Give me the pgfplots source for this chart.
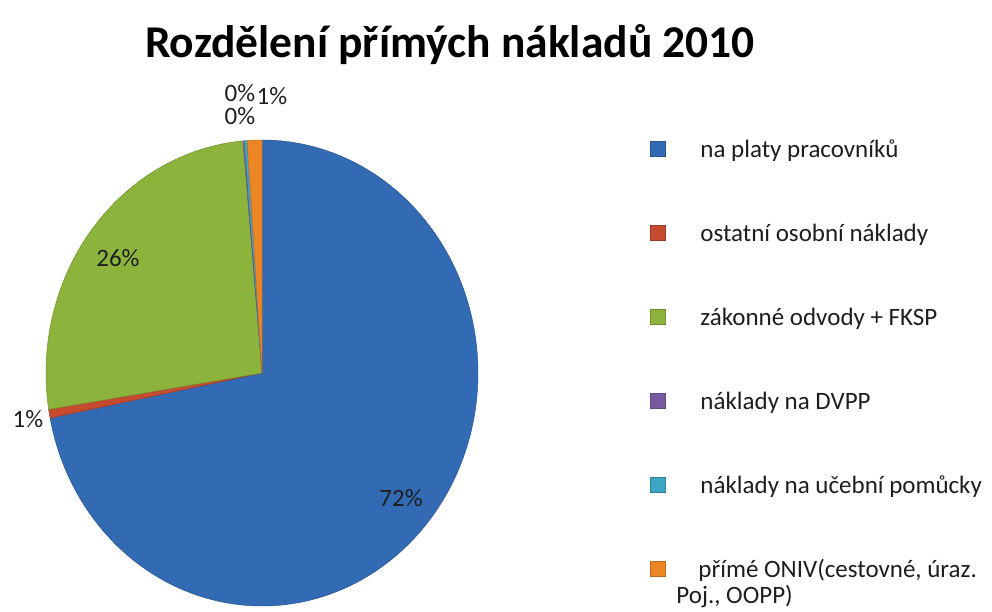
\documentclass[border=0pt]{standalone}
\usepackage{fontspec}
\setmainfont{Carlito}
\usepackage{pgfplots}
\pgfplotsset{compat=1.18}
\definecolor{cA}{RGB}{50,106,180}
\definecolor{cB}{RGB}{198,74,48}
\definecolor{cC}{RGB}{140,180,60}
\definecolor{cD}{RGB}{120,90,160}
\definecolor{cE}{RGB}{60,165,195}
\definecolor{cF}{RGB}{236,134,36}
\definecolor{txt}{RGB}{30,30,30}
% shares in percent (clockwise from 12 o'clock)
\def\vA{71.9}\def\vB{0.6}\def\vC{26.1}\def\vD{0.1}\def\vE{0.2}\def\vF{1.1}
\pgfmathsetmacro\aA{90}
\pgfmathsetmacro\aB{\aA-3.6*\vA}
\pgfmathsetmacro\aC{\aB-3.6*\vB}
\pgfmathsetmacro\aD{\aC-3.6*\vC}
\pgfmathsetmacro\aE{\aD-3.6*\vD}
\pgfmathsetmacro\aF{\aE-3.6*\vE}
\pgfmathsetmacro\aG{\aF-3.6*\vF}
\begin{document}
\begin{tikzpicture}
\begin{axis}[
  scale only axis, width=992bp, height=612bp,
  xmin=0, xmax=992, ymin=0, ymax=612,
  hide axis, clip=false,
  legend columns=1,
  legend image code/.code={\fill[#1] (0bp,-4.5bp) rectangle (15bp,10.5bp);},
  legend style={draw=none, fill=none, at={(0.655,0.772)}, anchor=north west,
    font=\fontsize{25bp}{30bp}\selectfont\color{txt},
    inner sep=0pt, row sep=60bp, column sep=35bp,
    nodes={inner sep=0pt, text height=18bp, text depth=6bp}},
  legend cell align=left,
]
\path (rel axis cs:0,0) rectangle (rel axis cs:1,1);
\addplot[fill=cA, draw=cA!80!black, line width=0.5bp, domain=\aB:\aA, samples=150]
  ({262+216*cos(x)},{239+233*sin(x)}) -- (axis cs:262,239) -- cycle;
\addlegendentry{na platy pracovníků}
\addplot[fill=cB, draw=cB!80!black, line width=0.5bp, domain=\aC:\aB, samples=6]
  ({262+216*cos(x)},{239+233*sin(x)}) -- (axis cs:262,239) -- cycle;
\addlegendentry{ostatní osobní náklady}
\addplot[fill=cC, draw=cC!80!black, line width=0.5bp, domain=\aD:\aC, samples=80]
  ({262+216*cos(x)},{239+233*sin(x)}) -- (axis cs:262,239) -- cycle;
\addlegendentry{zákonné odvody + FKSP}
\addplot[fill=cD, draw=cD!80!black, line width=0.3bp, domain=\aE:\aD, samples=3]
  ({262+216*cos(x)},{239+233*sin(x)}) -- (axis cs:262,239) -- cycle;
\addlegendentry{náklady na DVPP}
\addplot[fill=cE, draw=cE!80!black, line width=0.3bp, domain=\aF:\aE, samples=3]
  ({262+216*cos(x)},{239+233*sin(x)}) -- (axis cs:262,239) -- cycle;
\addlegendentry{náklady na učební pomůcky}
\addplot[fill=cF, draw=cF!80!black, line width=0.5bp, domain=\aG:\aF, samples=6]
  ({262+216*cos(x)},{239+233*sin(x)}) -- (axis cs:262,239) -- cycle;
\addlegendentry{\parbox[t]{280bp}{\fontsize{25bp}{26bp}\selectfont\raggedright\hspace*{-2bp}přímé ONIV(cestovné, úraz.\\\hspace*{-24bp}Poj., OOPP)}}

% title
\node[anchor=base, font=\fontsize{45.5bp}{54bp}\selectfont\bfseries, text=black] at (axis cs:450,554) {Rozdělení přímých nákladů 2010};
% data labels
\begin{scope}[every node/.style={font=\fontsize{25bp}{30bp}\selectfont, text=txt, inner sep=0pt}]
\node at (axis cs:401,114) {72\%};
\node at (axis cs:118,354) {26\%};
\node at (axis cs:28,193) {1\%};
\node at (axis cs:240,519) {0\%};
\node at (axis cs:240,496) {0\%};
\node at (axis cs:272,516) {1\%};
\end{scope}
\end{axis}
\end{tikzpicture}
\end{document}
